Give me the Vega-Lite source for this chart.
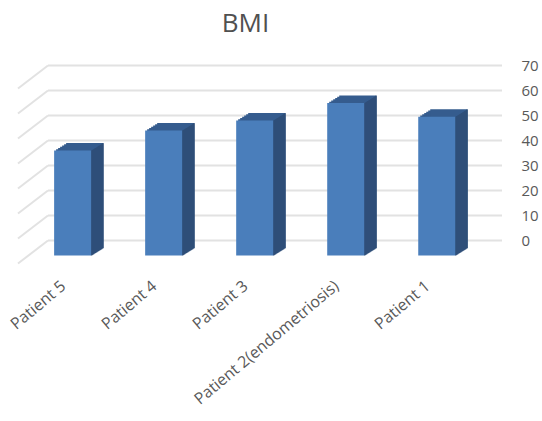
{
  "$schema": "https://vega.github.io/schema/vega-lite/v6.json",
  "autosize": {"type": "none"},
  "width": 487,
  "height": 200,
  "padding": {"left": 18, "top": 65.5, "right": 37, "bottom": 155.5},
  "background": "white",
  "view": {"stroke": null},
  "title": {"text": "BMI", "font": "Open Sans", "fontSize": 26, "fontWeight": "normal", "color": "#505050", "anchor": "middle", "dx": -16, "offset": 22},
  "datasets": {
    "levels": [{"level": 0}, {"level": 10}, {"level": 20}, {"level": 30}, {"level": 40}, {"level": 50}, {"level": 60}, {"level": 70}],
    "patients": [
      {"patient": "Patient 5", "bmi": 42},
      {"patient": "Patient 4", "bmi": 50},
      {"patient": "Patient 3", "bmi": 54},
      {"patient": "Patient 2(endometriosis)", "bmi": 61},
      {"patient": "Patient 1", "bmi": 55.5}
    ]
  },
  "resolve": {"scale": {"x": "independent"}},
  "layer": [
    {
      "description": "Back wall gridlines",
      "data": {"name": "levels"},
      "mark": {"type": "rule", "color": "#e2e2e2", "strokeWidth": 2},
      "encoding": {
        "x": {"datum": 30, "type": "quantitative", "scale": {"domain": [0, 487]}, "axis": null},
        "x2": {"datum": 484},
        "y": {"field": "level", "type": "quantitative", "scale": {"domain": [-10, 70]},
          "axis": {"orient": "right", "values": [0, 10, 20, 30, 40, 50, 60, 70], "labelOverlap": false, "title": null, "grid": false, "domain": false, "ticks": false, "labelFont": "Open Sans", "labelFontSize": 15, "labelColor": "#595959", "labelPadding": 16}}
      }
    },
    {
      "description": "Side wall gridlines running toward the viewer",
      "data": {"name": "levels"},
      "mark": {"type": "rule", "color": "#e2e2e2", "strokeWidth": 2, "yOffset": 23, "y2Offset": 0},
      "encoding": {
        "x": {"datum": 0, "type": "quantitative", "scale": {"domain": [0, 487]}, "axis": null},
        "x2": {"datum": 30},
        "y": {"field": "level", "type": "quantitative", "axis": {"orient": "right", "values": [0, 10, 20, 30, 40, 50, 60, 70], "labelOverlap": false, "title": null, "grid": false, "domain": false, "ticks": false, "labelFont": "Open Sans", "labelFontSize": 15, "labelColor": "#595959", "labelPadding": 16}},
        "y2": {"field": "level"}
      }
    },
    {
      "description": "Bars: top faces, side faces, then front faces, built from offset slices for depth",
      "data": {"name": "patients"},
      "encoding": {
        "x": {"field": "patient", "type": "nominal", "sort": null,
          "scale": {"paddingInner": 0, "paddingOuter": 0.175, "align": 0.286},
          "axis": {"orient": "bottom", "title": null, "domain": false, "ticks": false, "labelAngle": -40, "labelAlign": "right", "labelBaseline": "middle", "labelFont": "Open Sans", "labelFontSize": 16, "labelColor": "#595959", "labelPadding": 18, "labelOffset": -9, "labelLimit": 260}},
        "y": {"field": "bmi", "type": "quantitative", "axis": {"orient": "right", "values": [0, 10, 20, 30, 40, 50, 60, 70], "labelOverlap": false, "title": null, "grid": false, "domain": false, "ticks": false, "labelFont": "Open Sans", "labelFontSize": 15, "labelColor": "#595959", "labelPadding": 16}},
        "y2": {"datum": 0}
      },
      "layer": [
        {"mark": {"type": "bar", "width": 37, "color": "#355c8e", "xOffset": 2, "yOffset": 13.75, "y2Offset": 13.75}},
        {"mark": {"type": "bar", "width": 37, "color": "#355c8e", "xOffset": 4, "yOffset": 12.5, "y2Offset": 12.5}},
        {"mark": {"type": "bar", "width": 37, "color": "#355c8e", "xOffset": 6, "yOffset": 11.25, "y2Offset": 11.25}},
        {"mark": {"type": "bar", "width": 37, "color": "#355c8e", "xOffset": 8, "yOffset": 10, "y2Offset": 10}},
        {"mark": {"type": "bar", "width": 37, "color": "#355c8e", "xOffset": 10, "yOffset": 8.75, "y2Offset": 8.75}},
        {"mark": {"type": "bar", "width": 37, "color": "#355c8e", "xOffset": 12, "yOffset": 7.5, "y2Offset": 7.5}},
        {"mark": {"type": "bar", "width": 1.5, "color": "#2f4f79", "xOffset": 19, "yOffset": 15, "y2Offset": 15}},
        {"mark": {"type": "bar", "width": 1.5, "color": "#2f4f79", "xOffset": 20, "yOffset": 14.4, "y2Offset": 14.4}},
        {"mark": {"type": "bar", "width": 1.5, "color": "#2f4f79", "xOffset": 21, "yOffset": 13.75, "y2Offset": 13.75}},
        {"mark": {"type": "bar", "width": 1.5, "color": "#2f4f79", "xOffset": 22, "yOffset": 13.1, "y2Offset": 13.1}},
        {"mark": {"type": "bar", "width": 1.5, "color": "#2f4f79", "xOffset": 23, "yOffset": 12.5, "y2Offset": 12.5}},
        {"mark": {"type": "bar", "width": 1.5, "color": "#2f4f79", "xOffset": 24, "yOffset": 11.9, "y2Offset": 11.9}},
        {"mark": {"type": "bar", "width": 1.5, "color": "#2f4f79", "xOffset": 25, "yOffset": 11.25, "y2Offset": 11.25}},
        {"mark": {"type": "bar", "width": 1.5, "color": "#2f4f79", "xOffset": 26, "yOffset": 10.6, "y2Offset": 10.6}},
        {"mark": {"type": "bar", "width": 1.5, "color": "#2f4f79", "xOffset": 27, "yOffset": 10, "y2Offset": 10}},
        {"mark": {"type": "bar", "width": 1.5, "color": "#2f4f79", "xOffset": 28, "yOffset": 9.4, "y2Offset": 9.4}},
        {"mark": {"type": "bar", "width": 1.5, "color": "#2f4f79", "xOffset": 29, "yOffset": 8.75, "y2Offset": 8.75}},
        {"mark": {"type": "bar", "width": 1.5, "color": "#2f4f79", "xOffset": 30, "yOffset": 8.1, "y2Offset": 8.1}},
        {"mark": {"type": "bar", "width": 1, "color": "#2f4f79", "xOffset": 30.5, "yOffset": 7.5, "y2Offset": 7.5}},
        {"mark": {"type": "bar", "width": 37, "color": "#4a7ebb", "yOffset": 15, "y2Offset": 15}}
      ]
    }
  ]
}
